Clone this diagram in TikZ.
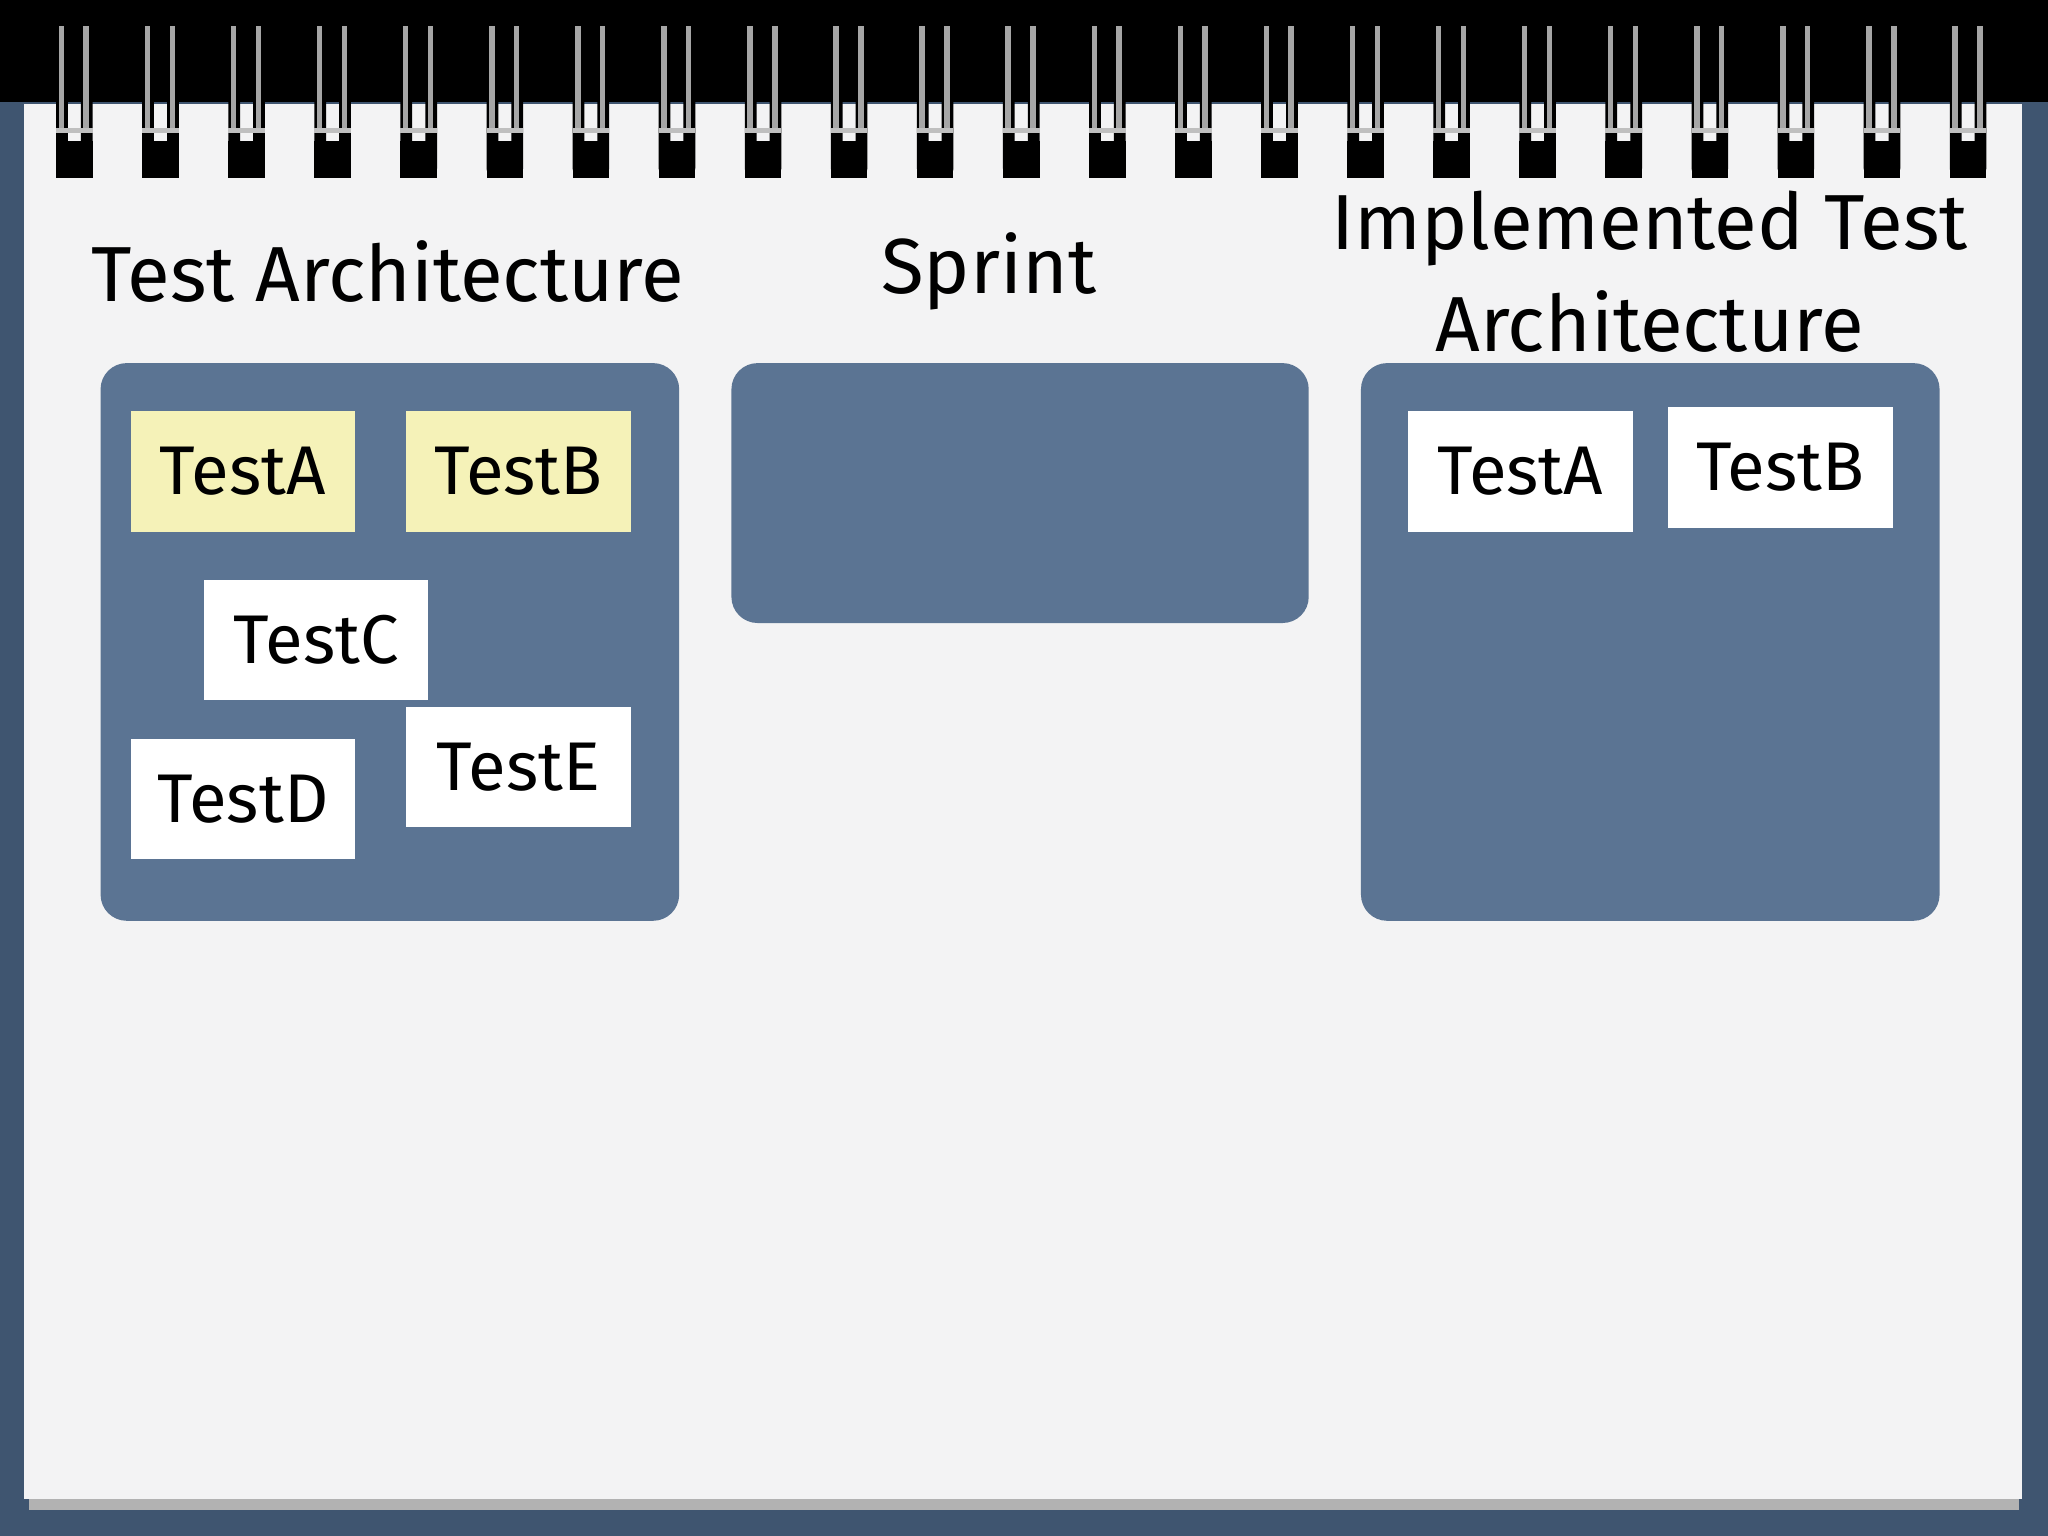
\documentclass[tikz,border=0pt]{standalone}
\usepackage{fontspec}
\setmainfont{Fira Sans}
\begin{document}
\begin{tikzpicture}[x=0.01cm,y=-0.01cm,
  panel/.style={fill=panelc,draw=none,rounded corners=0.2cm},
  card/.style={draw=none,minimum width=1.72cm,minimum height=0.92cm,font=\fontsize{15}{18}\selectfont,inner sep=0pt},
  ttl/.style={font=\fontsize{17}{22}\selectfont,align=center}]
\definecolor{bgc}{HTML}{3F5570}
\definecolor{panelc}{HTML}{5B7493}
\definecolor{pagec}{HTML}{F3F3F4}
\definecolor{yel}{HTML}{F5F2B8}
\useasboundingbox (0,0) rectangle (1568,1176);
\fill[bgc] (0,0) rectangle (1568,1176);
\fill[black] (0,0) rectangle (1568,78);
\fill[gray!60] (22,1140) rectangle (1546,1156);
\fill[pagec] (18,80) rectangle (1548,1148);
\foreach \i in {0,...,22}{
  \pgfmathsetmacro\xx{57+\i*65.9}
  \fill[black,rounded corners=2pt] (\xx-14,14) rectangle (\xx-5,136);
  \fill[black,rounded corners=2pt] (\xx+5,14) rectangle (\xx+14,136);
  \fill[black] (\xx-14,108) rectangle (\xx+14,136);
  \draw[gray!70,line width=1.2pt] (\xx-10,20) -- (\xx-10,100) (\xx+9,20) -- (\xx+9,100);
  \draw[gray!50,line width=1pt] (\xx-14,100) -- (\xx+14,100);
}
\node[ttl] (t1) at (297,208) {Test Architecture};
\node[ttl] (t2) at (757,208) {Sprint};
\node[ttl] (t3) at (1263,208) {Implemented Test\\Architecture};
\fill[panel] (77,278) rectangle (520,705);
\fill[panel] (560,278) rectangle (1002,477);
\fill[panel] (1042,278) rectangle (1485,705);
\node[card,fill=yel] (a) at (186,361) {TestA};
\node[card,fill=yel] (b) at (397,361) {TestB};
\node[card,fill=white] (c) at (242,490) {TestC};
\node[card,fill=white] (d) at (186,612) {TestD};
\node[card,fill=white] (e) at (397,587) {TestE};
\node[card,fill=white] (ra) at (1164,361) {TestA};
\node[card,fill=white] (rb) at (1363,358) {TestB};
\end{tikzpicture}
\end{document}
